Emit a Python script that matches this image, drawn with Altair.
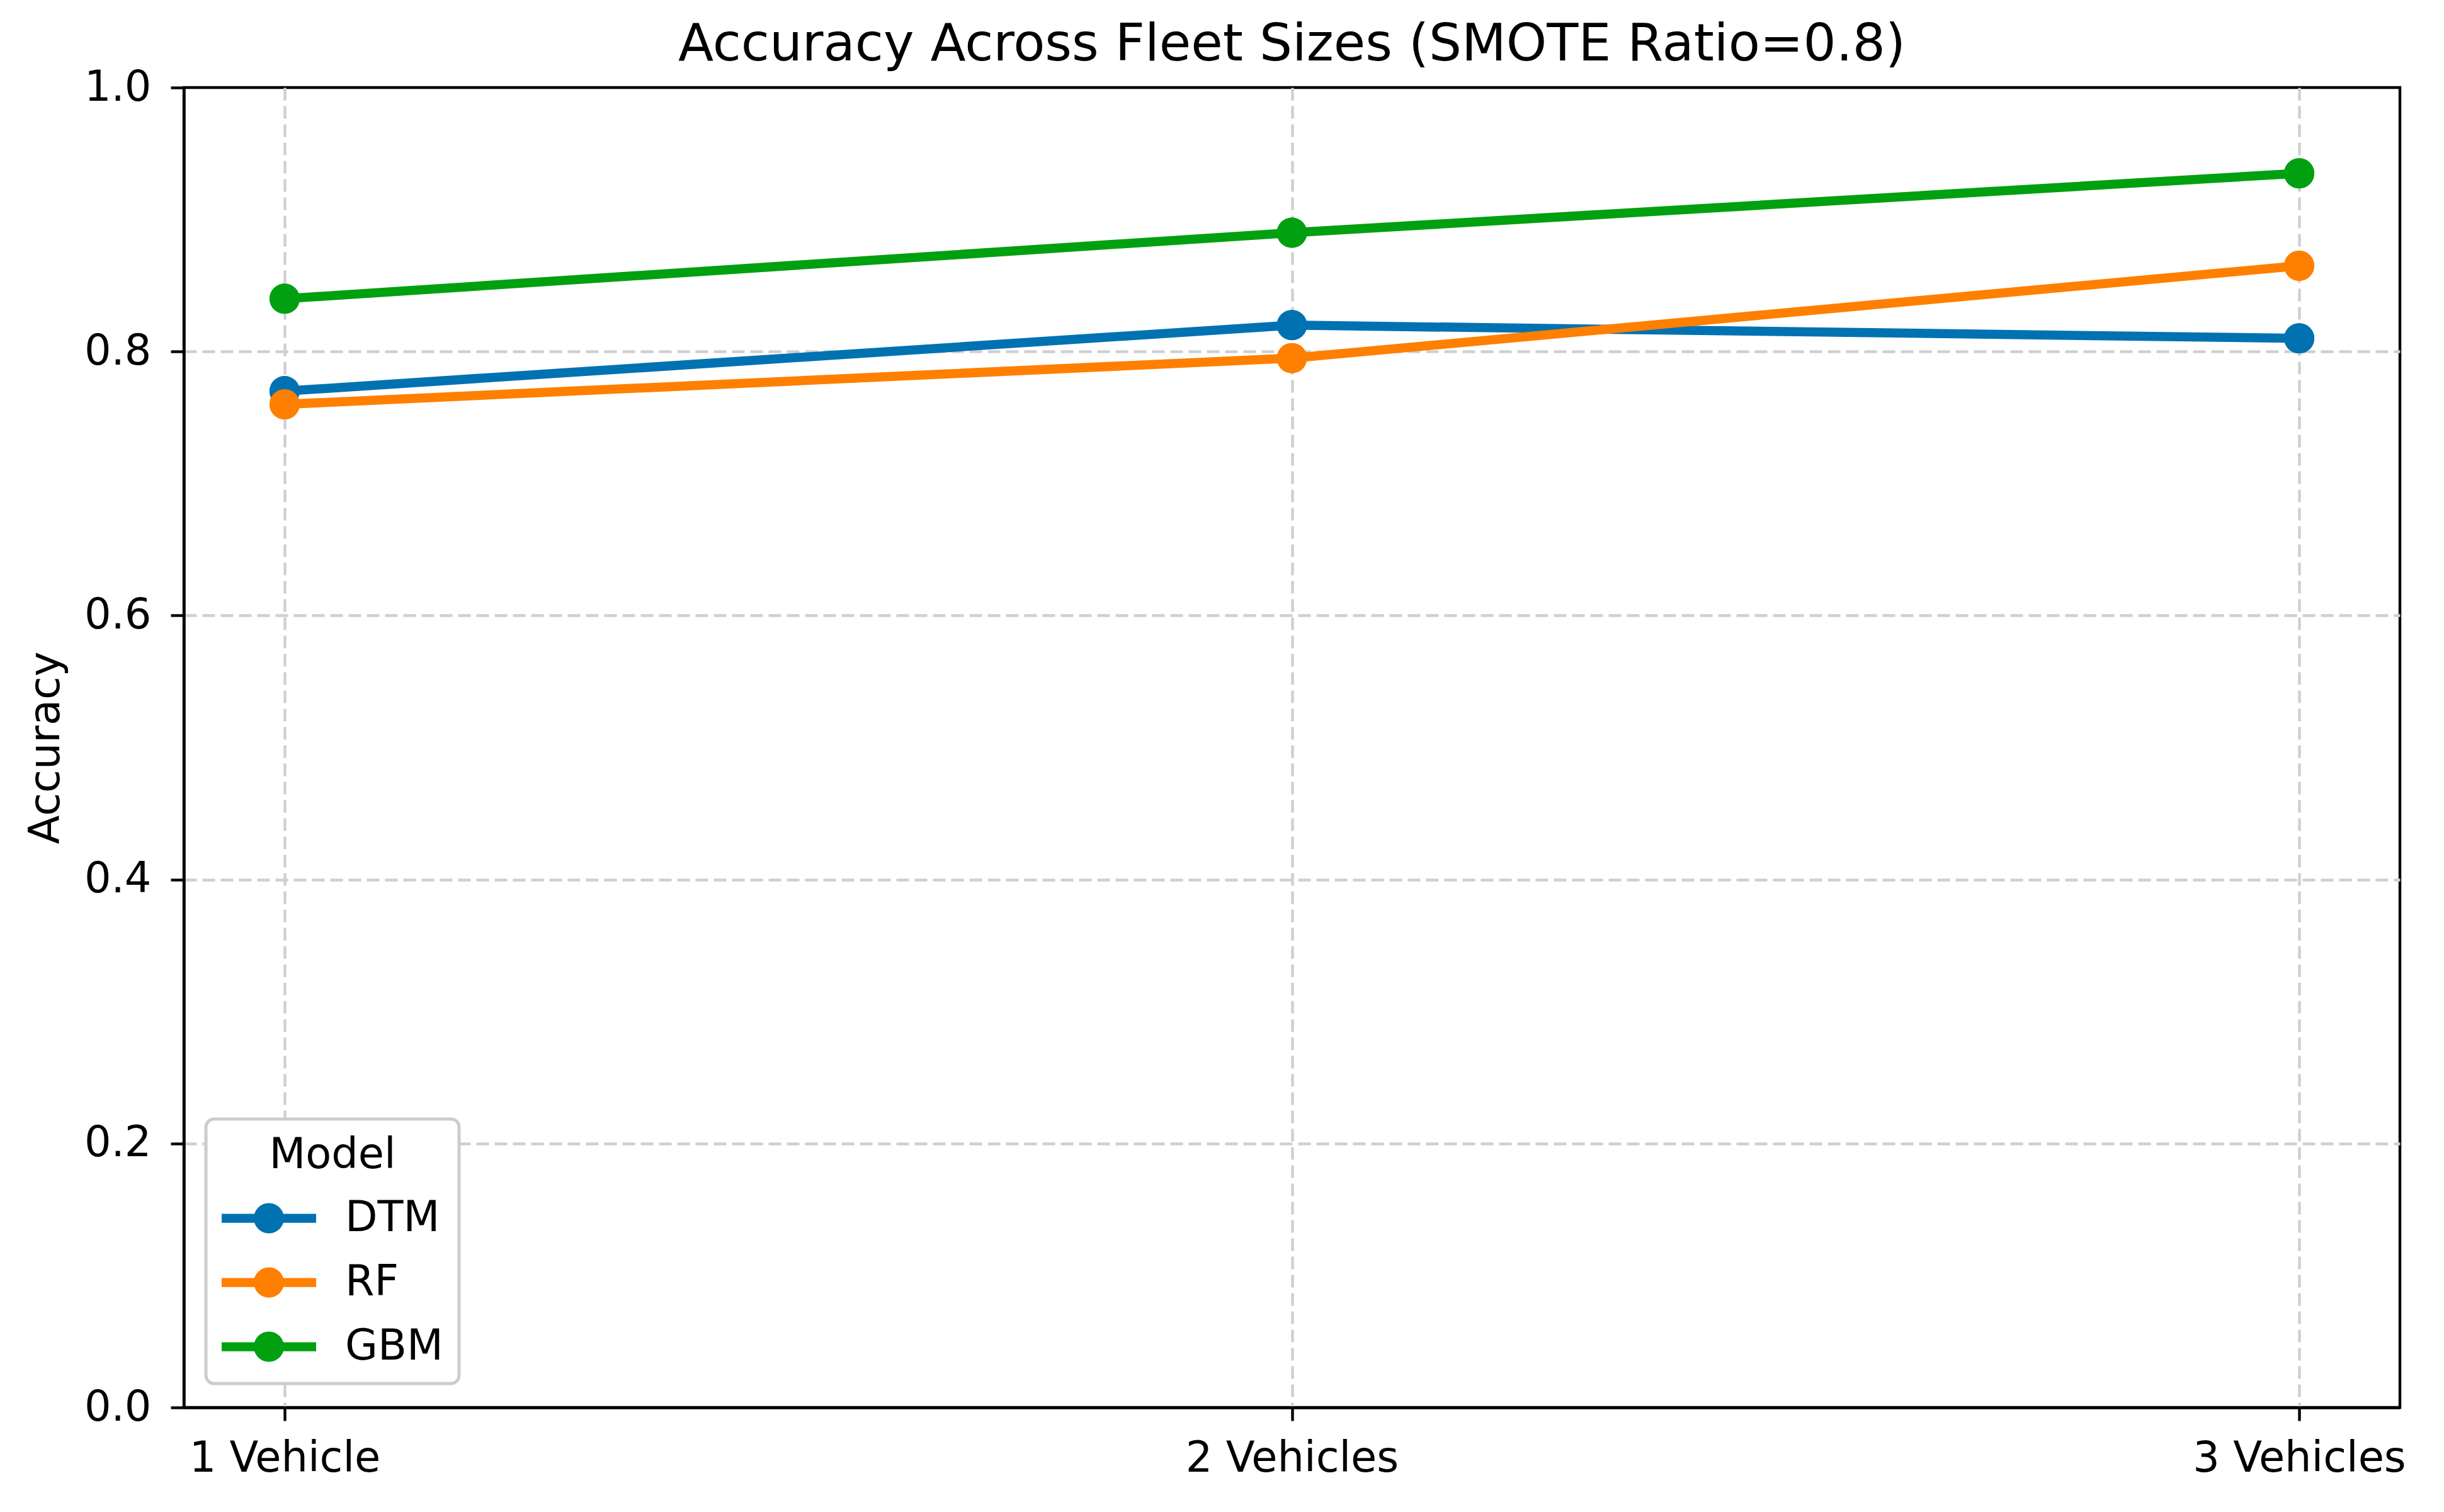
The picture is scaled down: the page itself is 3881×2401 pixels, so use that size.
import math
import altair as alt
import pandas as pd

# ---- data ----
fleet_sizes = ["1 Vehicle", "2 Vehicles", "3 Vehicles"]
models = ["DTM", "RF", "GBM"]
dtm_acc = [0.77, 0.82, 0.81]
rf_acc = [0.76, 0.795, 0.865]
gbm_acc = [0.84, 0.89, 0.935]
model_colors = ["#0072B2", "#FF7F00", "#00A010"]
y_ticks = [0.0, 0.2, 0.4, 0.6, 0.8, 1.0]

series = {"DTM": dtm_acc, "RF": rf_acc, "GBM": gbm_acc}
rows = []
for m in models:
    for f, v in zip(fleet_sizes, series[m]):
        rows.append({"Fleet": f, "Model": m, "Accuracy": v})
df = pd.DataFrame(rows)

FONT = "DejaVu Sans"

# legend glyph: a horizontal bar with a dot in the middle (unit coords, polygon only)
_circle = " ".join(
    ("M" if i == 0 else "L")
    + f"{0.32 * math.cos(2 * math.pi * i / 48):.4f},{0.32 * math.sin(2 * math.pi * i / 48):.4f}"
    for i in range(48)
)
legend_glyph = "M-1,-0.095 L1,-0.095 L1,0.095 L-1,0.095 Z " + _circle + " Z"

x_enc = alt.X(
    "Fleet:N",
    sort=fleet_sizes,
    scale=alt.Scale(type="point", padding=0.1),
    axis=alt.Axis(title=None, labelAngle=0, labelPadding=27, labelLimit=0),
)
y_enc = alt.Y(
    "Accuracy:Q",
    scale=alt.Scale(domain=[0, 1], nice=False, zero=True),
    axis=alt.Axis(
        title="Accuracy",
        values=y_ticks,
        format=".1f",
        labelPadding=31,
        titlePadding=26,
        gridOpacity={
            "condition": {"test": "datum.value <= 0 || datum.value >= 1", "value": 0},
            "value": 1,
        },
    ),
)
color_scale = alt.Scale(domain=models, range=model_colors)

legend_def = alt.Legend(
    title="Model",
    orient="none",
    legendX=35,
    legendY=1638,
    symbolType=legend_glyph,
    symbolSize=22500,
    symbolStrokeWidth=0,
    symbolOpacity=1,
    clipHeight=67,
    labelOffset=46,
    rowPadding=34,
    titlePadding=32,
    padding=25,
    titleAnchor="middle",
    titleFontSize=67,
    titleFontWeight="normal",
    titleFont=FONT,
    titleColor="black",
    titleLimit=2000,
    labelFontSize=67,
    labelFont=FONT,
    labelColor="black",
    labelLimit=0,
    strokeColor="#cccccc",
    fillColor="white",
    cornerRadius=13,
)

# first layer carries the legend (its settings win when layers are merged)
points_under = alt.Chart(df).mark_point(filled=True, size=2304, opacity=1).encode(
    x=x_enc,
    y=y_enc,
    color=alt.Color("Model:N", scale=color_scale, legend=legend_def),
)

lines = alt.Chart(df).mark_line(strokeWidth=14.5).encode(
    x=x_enc,
    y=y_enc,
    color=alt.Color("Model:N", scale=color_scale),
)

points = alt.Chart(df).mark_point(filled=True, size=2304, opacity=1).encode(
    x=x_enc,
    y=y_enc,
    color=alt.Color("Model:N", scale=color_scale),
)

chart = (
    alt.layer(points_under, lines, points)
    .properties(
        width=3519,
        height=2096,
        title=alt.TitleParams(
            "Accuracy Across Fleet Sizes (SMOTE Ratio=0.8)",
            anchor="middle",
            frame="group",
            baseline="top",
            offset=0,
            dy=8,
            fontSize=82,
            fontWeight="normal",
            font=FONT,
            color="black",
            limit=0,
        ),
        autosize=alt.AutoSizeParams(type="none"),
        padding={"left": 284, "top": 131, "right": 62, "bottom": 158},
        background="white",
    )
    .configure_view(stroke="black", strokeWidth=4.4)
    .configure_axis(
        labelFont=FONT,
        titleFont=FONT,
        labelFontSize=67,
        titleFontSize=67,
        titleFontWeight="normal",
        labelColor="black",
        titleColor="black",
        domain=True,
        domainColor="black",
        domainWidth=4.4,
        tickColor="black",
        tickWidth=4.4,
        tickSize=21,
        grid=True,
        gridColor="#cfcfcf",
        gridDash=[20, 9],
        gridWidth=4.4,
    )
    .configure_legend(strokeWidth=5)
)

chart.save("out.html", embed_options={"renderer": "svg", "actions": False})
